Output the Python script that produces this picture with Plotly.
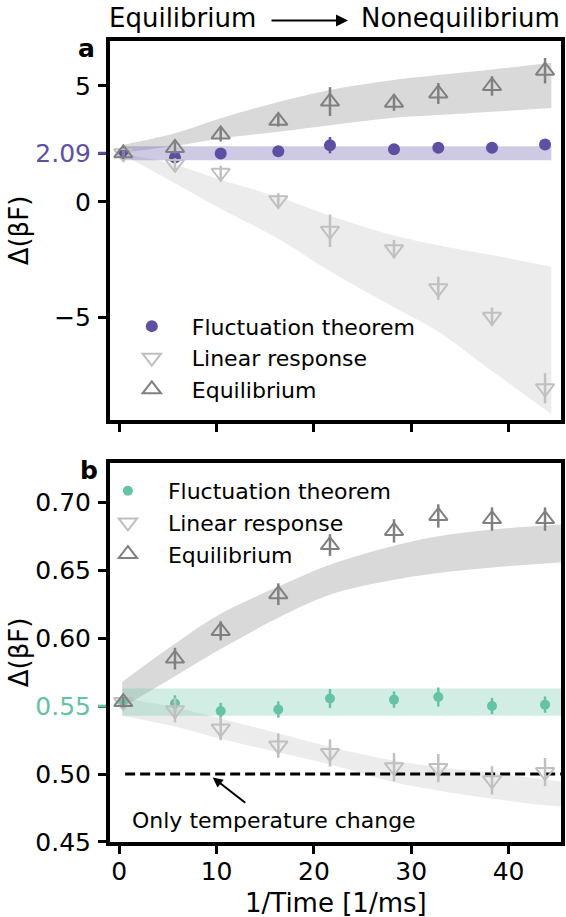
import plotly.graph_objects as go

# ---------------- data ----------------
x_time = [0.41, 5.72, 10.42, 16.34, 21.65, 28.23, 32.78, 38.3, 43.75]

# panel a
a_ft = [2.09, 1.91, 2.08, 2.18, 2.44, 2.26, 2.33, 2.33, 2.47]
a_ft_err = [0.08, 0.12, 0.1, 0.1, 0.35, 0.12, 0.12, 0.12, 0.15]
a_lr = [2.09, 1.63, 1.25, 0.07, -1.25, -2.05, -3.73, -4.96, -8.04]
a_lr_err = [0.1, 0.25, 0.3, 0.3, 0.7, 0.4, 0.5, 0.4, 0.65]
a_eq = [2.09, 2.32, 2.9, 3.49, 4.32, 4.27, 4.67, 4.99, 5.65]
a_eq_err = [0.1, 0.25, 0.3, 0.25, 0.62, 0.35, 0.45, 0.42, 0.55]
a_ref = 2.09
a_ref_half = 0.3
a_band_x = [0.3, 5.72, 10.42, 16.34, 21.65, 28.23, 32.78, 38.3, 44.4]
a_eq_up = [2.45, 2.95, 3.6, 4.3, 4.82, 5.25, 5.46, 5.7, 5.99]
a_eq_lo = [2.12, 2.4, 2.73, 3.02, 3.3, 3.62, 3.74, 3.88, 4.04]
a_lr_up = [2.09, 1.6, 0.95, 0.2, -0.6, -1.45, -1.87, -2.3, -2.8]
a_lr_lo = [2.05, 0.8, -0.3, -1.6, -3.0, -4.55, -5.6, -7.3, -9.15]
a_ticks = [-5, 0, 2.09, 5]

# panel b
b_ft = [0.553, 0.552, 0.5464, 0.5475, 0.5556, 0.5548, 0.5567, 0.5501, 0.5511]
b_ft_err = [0.004, 0.006, 0.006, 0.006, 0.007, 0.006, 0.007, 0.006, 0.006]
b_lr = [0.553, 0.547, 0.5335, 0.521, 0.5155, 0.5051, 0.5044, 0.4954, 0.5015]
b_lr_err = [0.004, 0.009, 0.0086, 0.009, 0.01, 0.0104, 0.0104, 0.0104, 0.0104]
b_eq = [0.553, 0.585, 0.6054, 0.6324, 0.6686, 0.679, 0.690, 0.6877, 0.6877]
b_eq_err = [0.004, 0.008, 0.007, 0.008, 0.008, 0.0086, 0.0086, 0.0086, 0.0086]
b_ref = 0.553
b_ref_tick = 0.55
b_ref_half = 0.01
b_band_x = [0.3, 5.72, 10.42, 16.34, 21.65, 28.23, 32.78, 38.3, 43.75, 46]
b_eq_up = [0.568, 0.596, 0.618, 0.638, 0.654, 0.668, 0.675, 0.680, 0.683, 0.684]
b_eq_lo = [0.549, 0.572, 0.592, 0.615, 0.632, 0.643, 0.648, 0.652, 0.655, 0.656]
b_lr_up = [0.556, 0.549, 0.541, 0.530, 0.520, 0.510, 0.505, 0.501, 0.496, 0.494]
b_lr_lo = [0.543, 0.535, 0.526, 0.516, 0.507, 0.494, 0.488, 0.482, 0.477, 0.476]
b_ticks = [0.45, 0.50, 0.55, 0.60, 0.65, 0.70]
b_only_temp = 0.50
x_ticks = [0, 10, 20, 30, 40]

# ---------------- styles ----------------
PURPLE = '#5e4fa2'
GREEN = '#66c2a5'
DARK = '#808080'
LIGHT = '#c0c0c0'
FONT = 'DejaVu Sans'
X_RANGE = [-0.956, 45.39]
A_RANGE = [-9.41, 6.93]
B_RANGE = [0.45, 0.729]

fig = go.Figure()


def band(x, lo, up, color, xa, ya):
    fig.add_trace(go.Scatter(x=x, y=lo, mode='lines', line=dict(width=0, shape='spline'),
                             showlegend=False, hoverinfo='skip', xaxis=xa, yaxis=ya))
    fig.add_trace(go.Scatter(x=x, y=up, mode='lines', line=dict(width=0, shape='spline'),
                             fill='tonexty', fillcolor=color, showlegend=False,
                             hoverinfo='skip', xaxis=xa, yaxis=ya))


# panel a bands
band(a_band_x, a_lr_lo, a_lr_up, 'rgba(192,192,192,0.3)', 'x', 'y')
band(a_band_x, a_eq_lo, a_eq_up, 'rgba(128,128,128,0.3)', 'x', 'y')
band([a_band_x[0], a_band_x[-1]], [a_ref - a_ref_half] * 2, [a_ref + a_ref_half] * 2,
     'rgba(94,79,162,0.3)', 'x', 'y')

# panel b bands
band(b_band_x, b_lr_lo, b_lr_up, 'rgba(192,192,192,0.3)', 'x2', 'y2')
band(b_band_x, b_eq_lo, b_eq_up, 'rgba(128,128,128,0.3)', 'x2', 'y2')
band([b_band_x[0], b_band_x[-1]], [b_ref - b_ref_half] * 2, [b_ref + b_ref_half] * 2,
     'rgba(102,194,165,0.3)', 'x2', 'y2')

# dashed "only temperature change" line
fig.add_trace(go.Scatter(x=[0.6, X_RANGE[1] + 1], y=[b_only_temp, b_only_temp], mode='lines',
                         line=dict(color='black', width=3, dash='10px,5px'),
                         showlegend=False, hoverinfo='skip', xaxis='x2', yaxis='y2'))


def points(y, err, name, color, symbol, size, xa, ya, legend):
    open_sym = symbol.endswith('open')
    fig.add_trace(go.Scatter(
        x=x_time, y=y, mode='markers', name=name, legend=legend,
        marker=dict(symbol=symbol, size=size, color=color,
                    line=dict(width=2 if open_sym else 0, color=color)),
        error_y=dict(type='data', array=err, thickness=2.5, width=0, color=color),
        xaxis=xa, yaxis=ya))


points(a_ft, a_ft_err, 'Fluctuation theorem', PURPLE, 'circle', 12, 'x', 'y', 'legend')
points(a_lr, a_lr_err, 'Linear response', LIGHT, 'triangle-down-open', 16, 'x', 'y', 'legend')
points(a_eq, a_eq_err, 'Equilibrium', DARK, 'triangle-up-open', 16, 'x', 'y', 'legend')

points(b_ft, b_ft_err, 'Fluctuation theorem', GREEN, 'circle', 10, 'x2', 'y2', 'legend2')
points(b_lr, b_lr_err, 'Linear response', LIGHT, 'triangle-down-open', 16, 'x2', 'y2', 'legend2')
points(b_eq, b_eq_err, 'Equilibrium', DARK, 'triangle-up-open', 16, 'x2', 'y2', 'legend2')

axis_common = dict(showline=True, linewidth=4, linecolor='black', mirror=True,
                   ticks='outside', ticklen=8, tickwidth=3, tickcolor='black',
                   showgrid=False, zeroline=False, automargin=False,
                   tickfont=dict(size=25, color='black'))


def fmt_a(v):
    if v == a_ref:
        return f'<span style="color:{PURPLE}">{v:.2f}</span>'
    return f'{v:g}'.replace('-', '\u2212')


def fmt_b(v):
    if v == b_ref_tick:
        return f'<span style="color:{GREEN}">{v:.2f}</span>'
    return f'{v:.2f}'


fig.update_layout(
    width=566, height=917,
    margin=dict(l=110, r=5, t=41, b=75),
    plot_bgcolor='white', paper_bgcolor='white',
    font=dict(family=FONT, size=25, color='black'),
    xaxis=dict(axis_common, domain=[0, 1], anchor='y', range=X_RANGE,
               tickvals=x_ticks, showticklabels=False),
    yaxis=dict(axis_common, domain=[0.5268, 1], anchor='x', range=A_RANGE,
               tickvals=a_ticks, ticktext=[fmt_a(v) for v in a_ticks], ticklabelstandoff=2,
               title=dict(text='\u0394(\u03b2F)', font=dict(size=26), standoff=0)),
    xaxis2=dict(axis_common, domain=[0, 1], anchor='y2', range=X_RANGE, matches='x',
                tickvals=x_ticks, ticklabelstandoff=-4),
    yaxis2=dict(axis_common, domain=[0, 0.4732], anchor='x2', range=B_RANGE,
                tickvals=b_ticks, ticktext=[fmt_b(v) for v in b_ticks], ticklabelstandoff=2,
                title=dict(text='\u0394(\u03b2F)', font=dict(size=26), standoff=0)),
    legend=dict(x=0.004, y=0.67, xanchor='left', yanchor='top', bgcolor='rgba(0,0,0,0)',
                font=dict(size=22), itemwidth=70, traceorder='normal'),
    legend2=dict(x=-0.049, y=0.4644, xanchor='left', yanchor='top', bgcolor='rgba(0,0,0,0)',
                 font=dict(size=22), itemwidth=70, traceorder='normal'),
    showlegend=True,
)

# x axis title
fig.add_annotation(text='1/Time [1/ms]', xref='paper', yref='paper', x=0.5, y=-0.0765,
                   showarrow=False, font=dict(size=26), xanchor='center', yanchor='middle')

# coloured reference ticks
fig.add_shape(type='line', xref='x domain', yref='y', x0=-12 / 451, x1=-4 / 451,
              y0=a_ref, y1=a_ref, line=dict(color=PURPLE, width=3))
fig.add_shape(type='line', xref='x2 domain', yref='y2', x0=-12 / 451, x1=-4 / 451,
              y0=b_ref_tick, y1=b_ref_tick, line=dict(color=GREEN, width=3))

# panel labels
fig.add_annotation(text='<b>a</b>', xref='paper', yref='paper', x=-0.051, y=0.991,
                   showarrow=False, font=dict(size=25), xanchor='center', yanchor='middle')
fig.add_annotation(text='<b>b</b>', xref='paper', yref='paper', x=-0.047, y=0.4644,
                   showarrow=False, font=dict(size=25), xanchor='center', yanchor='middle')

# header
fig.add_annotation(text='Equilibrium', xref='paper', yref='paper', x=-0.006, y=1.0287,
                   showarrow=False, font=dict(size=26), xanchor='left', yanchor='middle')
fig.add_annotation(text='Nonequilibrium', xref='paper', yref='paper', x=1.003, y=1.0287,
                   showarrow=False, font=dict(size=26), xanchor='right', yanchor='middle')
fig.add_annotation(text='', xref='paper', yref='paper', x=0.5277, y=1.0256,
                   ax=-78, ay=0, showarrow=True, arrowhead=2, arrowsize=1.2,
                   arrowwidth=2, arrowcolor='black')

# only temperature change annotation
fig.add_annotation(text='Only temperature change', xref='x2', yref='y2', x=1.1, y=0.4658,
                   showarrow=False, font=dict(size=22), xanchor='left', yanchor='middle')
fig.add_annotation(text='', xref='x2', yref='y2', axref='x2', ayref='y2',
                   x=9.6, y=0.4975, ax=13.1, ay=0.478, showarrow=True,
                   arrowhead=2, arrowsize=1, arrowwidth=2, arrowcolor='black')

fig.write_html('out.html')
